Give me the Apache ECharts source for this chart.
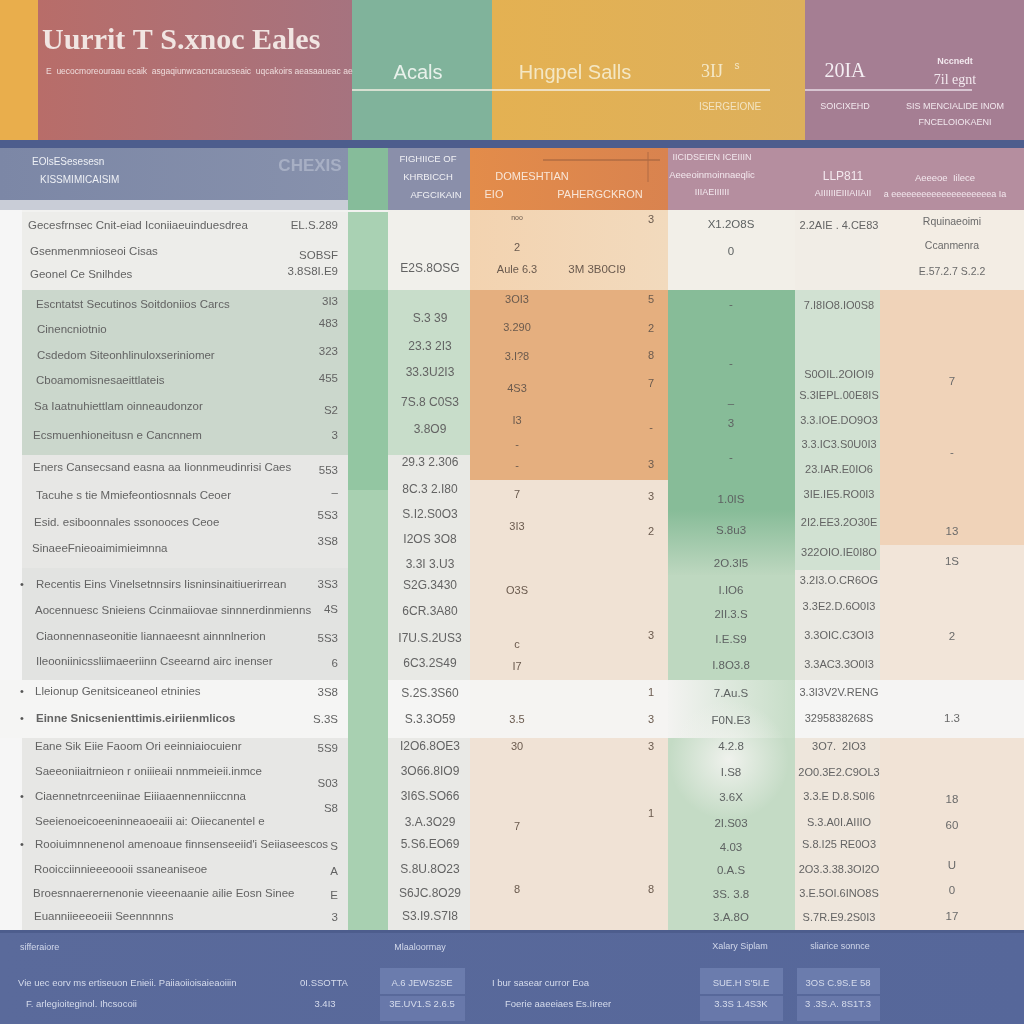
<!DOCTYPE html>
<html><head><meta charset="utf-8">
<script src="https://cdn.jsdelivr.net/npm/echarts@6/dist/echarts.min.js"></script>
<style>html,body{margin:0;padding:0;background:#fff}#c{width:1024px;height:1024px}</style>
</head><body><div id="c"></div>
<script>
// ---------------- DATA ----------------
const titleText = 'Uurrit T S.xnoc Eales';
const subtitleText = 'E  uecocmoreouraau ecaik  asgaqiunwcacrucaucseaic  uqcakoirs aeasaaueac ae';
const headerTopTexts = ['Acals', 'Hngpel Salls', '3IJ', 's', 'ISERGEIONE', '20IA', 'Nccnedt', '7il egnt', 'SOICIXEHD', 'SIS MENCIALIDE INOM', 'FNCELOIOKAENI'];
const columnHeaders = ['EOlsESesesesn', 'KISSMIMICAISIM', 'CHEXIS', 'FIGHIICE OF', 'KHRBICCH', 'AFGCIKAIN',
  'DOMESHTIAN', 'EIO', 'PAHERGCKRON', 'IICIDSEIEN ICEIIIN', 'Aeeeoinmoinnaeqlic', 'IIIAEIIIIII',
  'LLP811', 'AIIIIIIEIIIAIIAII', 'Aeeeoe  Iilece', 'a eeeeeeeeeeeeeeeeeeeea Ia'];
const rowLabels = [
  'Gecesfrnsec Cnit-eiad Iconiiaeuinduesdrea',
  'Gsenmenmnioseoi Cisas',
  'Geonel Ce Snilhdes',
  'Escntatst Secutinos Soitdoniios Carcs',
  'Cinencniotnio',
  'Csdedom Siteonhlinuloxseriniomer',
  'Cboamomisnesaeittlateis',
  'Sa Iaatnuhiettlam oinneaudonzor',
  'Ecsmuenhioneitusn e Cancnnem',
  'Eners Cansecsand easna aa Iionnmeudinrisi Caes',
  'Tacuhe s tie Mmiefeontiosnnals Ceoer',
  'Esid. esiboonnales ssonooces Ceoe',
  'SinaeeFnieoaimimieimnna',
  'Recentis Eins Vinelsetnnsirs Iisninsinaitiuerirrean',
  'Aocennuesc Snieiens Ccinmaiiovae sinnnerdinmienns',
  'Ciaonnennaseonitie liannaeesnt ainnnlnerion',
  'Ileooniinicssliimaeeriinn Cseearnd airc inenser',
  'Lleionup Genitsiceaneol etninies',
  'Einne Snicsenienttimis.eiriienmlicos',
  'Eane Sik Eiie Faoom Ori eeinniaiocuienr',
  'Saeeoniiaitrnieon r oniiieaii nnmmeieii.inmce',
  'Ciaennetnrceeniinae Eiiiaaennenniiccnna',
  'Seeienoeicoeeninneaoeaiii ai: Oiiecanentel e',
  'Rooiuimnnenenol amenoaue finnsenseeiid\'i Seiiaseescos',
  'Rooicciinnieeeoooii ssaneaniseoe',
  'Broesnnaerernenonie vieeenaanie ailie Eosn Sinee',
  'Euanniieeeoeiii Seennnnns'
];
const bulletRows = [13, 17, 18, 21, 23];
const unitValues = ['EL.S.289','SOBSF','3.8S8I.E9','3I3','483','323','455','S2','3','553','–','5S3','3S8','3S3','4S','5S3','6','3S8','S.3S','5S9','S03','S8','S','A','E','3'];
const priceValues = ['E2S.8OSG','S.3 39','23.3 2I3','33.3U2I3','7S.8 C0S3','3.8O9','29.3 2.306','8C.3 2.I80','S.I2.S0O3','I2OS 3O8','3.3I 3.U3','S2G.3430','6CR.3A80','I7U.S.2US3','6C3.2S49','S.2S.3S60','S.3.3O59','I2O6.8OE3','3O66.8IO9','3I6S.SO66','3.A.3O29','5.S6.EO69','S.8U.8O23','S6JC.8O29','S3.I9.S7I8'];
const domesticValues = ['noo','2','Aule 6.3','3OI3','3.290','3.I?8','4S3','I3','-','-','7','3I3','O3S','c','I7','3.5','30','7','8'];
const domesticMid = ['3M 3B0CI9'];
const percentValues = ['3','5','2','8','7','-','3','3','2','3','1','3','3','1','8'];
const growthValues = ['X1.2O8S','0','-','-','–','3','-','1.0IS','S.8u3','2O.3I5','I.IO6','2II.3.S','I.E.S9','I.8O3.8','7.Au.S','F0N.E3','4.2.8','I.S8','3.6X','2I.S03','4.03','0.A.S','3S. 3.8','3.A.8O'];
const totalValues = ['2.2AIE . 4.CE83','7.I8IO8.IO0S8','S0OIL.2OIOI9','S.3IEPL.00E8IS','3.3.IOE.DO9O3','3.3.IC3.S0U0I3','23.IAR.E0IO6','3IE.IE5.RO0I3','2I2.EE3.2O30E','322OIO.IE0I8O','3.2I3.O.CR6OG','3.3E2.D.6O0I3','3.3OIC.C3OI3','3.3AC3.3O0I3','3.3I3V2V.RENG','3295838268S','3O7.  2IO3','2O0.3E2.C9OL3','3.3.E D.8.S0I6','S.3.A0I.AIIIO','S.8.I25 RE0O3','2O3.3.38.3OI2O','3.E.5OI.6INO8S','S.7R.E9.2S0I3'];
const remarkValues = ['Rquinaeoimi','Ccanmenra','E.57.2.7 S.2.2','7','-','13','1S','2','1.3','18','60','U','0','17'];
const footerHeads = ['sifferaiore','Mlaaloormay','Xalary Siplam','sliarice sonnce'];
const footerRow1 = ['Vie uec eorv ms ertiseuon Enieii. Paiiaoiioisaieaoiiin','0I.SSOTTA','A.6 JEWS2SE','I bur sasear curror Eoa','SUE.H S\'5I.E','3OS C.9S.E 58'];
const footerRow2 = ['F. arlegioiteginol. Ihcsocoii','3.4I3','3E.UV1.S 2.6.5','Foerie aaeeiaes Es.Iireer','3.3S 1.4S3K','3 .3S.A. 8S1T.3'];

// ---------------- LAYOUT ----------------
const rowY = [226,252,275,305,330,356,381,407,436,468,496,523,549,585,611,637,662,692,719,747,772,797,822,845,870,894,917];
const rowX = [28,30,30,36,37,37,36,34,33,33,36,34,32,36,35,36,36,35,36,35,35,35,35,35,34,33,34];
const unitY = [226,256,272,302,324,352,379,411,436,471,493,516,542,585,610,639,664,693,720,749,784,809,847,872,896,918];
const priceY = [269,319,347,373,403,430,463,490,515,540,565,586,612,639,664,694,720,747,772,797,823,845,870,894,917];
const domesticY = [218,248,270,300,328,357,389,421,445,466,495,527,591,645,667,720,747,827,890];
const percentY = [220,300,329,356,384,428,465,497,532,636,693,720,747,814,890];
const growthY = [225,252,305,364,404,424,458,500,531,564,591,615,640,666,694,721,747,773,798,824,848,871,895,918];
const totalY = [226,306,375,396,421,445,470,495,523,553,581,607,636,665,693,719,747,773,797,823,845,870,894,918];
const remarkY = [222,246,272,382,453,532,562,637,719,800,826,866,891,917];

function lin(c1, c2, vertical) {
  return {type:'linear', x:0, y:0, x2: vertical ? 0 : 1, y2: vertical ? 1 : 0,
    colorStops:[{offset:0,color:c1},{offset:1,color:c2}]};
}
function glow(c) {
  return {type:'radial', x:0.5, y:0.5, r:0.5,
    colorStops:[{offset:0,color:c},{offset:1,color:'rgba(244,244,241,0)'}]};
}
const bands = [
  // header
  [0,0,38,142,'#E9AE4C'],
  [38,0,352,142,lin('#B86D69','#A6737F')],
  [352,0,492,142,'#80B39B'],
  [492,0,805,142,lin('#E4B152','#DDB05C')],
  [805,0,1024,142,'#A57E93'],
  [0,140,1024,148,'#4D5D8D'],
  // column header row
  [0,148,348,200,lin('#7C87A6','#8791AC')],
  [0,200,348,212,'#C9CDD7'],
  [348,148,388,212,'#86BC9A'],
  [388,148,470,210,'#8A8FAA'],
  [470,148,668,210,lin('#E38C4A','#D9834F')],
  [668,148,1024,210,'#B58E9F'],
  // body base
  [0,210,1024,930,'#F2F2F0'],
  [0,210,22,930,'#F6F6F6'],
  // label column
  [22,212,348,290,'#EDEDEA'],
  [22,290,348,455,'#CBD7CC'],
  [22,455,348,568,'#E7E7E5'],
  [22,568,348,680,'#E2E3E1'],
  [0,680,348,738,'#F5F5F4'],
  [22,738,348,930,'#E7E7E5'],
  // green stripe
  [348,212,388,290,'#A9D1B3'],
  [348,290,388,490,'#93C6A2'],
  [348,490,388,930,'#A8D0B1'],
  // price column
  [388,210,470,290,'#F1F0EB'],
  [388,290,470,455,'#C8DDCA'],
  [388,455,470,680,'#E8E9E5'],
  [388,680,470,738,'#F5F5F4'],
  [388,738,470,930,'#E9E9E6'],
  // orange column
  [470,210,668,290,lin('#F3D3B0','#F2DABD')],
  [470,290,668,480,'#E5AF7F'],
  [470,480,668,680,'#F0E2D4'],
  [470,680,668,738,'#F5F4F2'],
  [470,738,668,930,'#F0E2D5'],
  // green column
  [668,210,795,290,'#F2EFE8'],
  [668,290,795,510,'#87BC98'],
  [668,510,795,575,lin('#87BC98','#BDD7BF',true)],
  [668,575,795,680,'#BED8C0'],
  [668,680,795,738,lin('#F3F3F1','#C6DDC7')],
  [668,738,795,930,'#C4DBC5'],
  [668,700,790,820,glow('rgba(244,244,241,0.9)')],
  // total column
  [795,210,880,290,'#F1EDE6'],
  [795,290,880,570,'#D1E1D2'],
  [795,570,880,680,'#E9E8E2'],
  [795,680,880,738,'#F5F5F4'],
  [795,738,880,930,'#EEE6DC'],
  // remark column
  [880,210,1024,290,'#F3EDE4'],
  [880,290,1024,545,'#F0D3B9'],
  [880,545,1024,680,'#F2E5D9'],
  [880,680,1024,738,'#F5F4F3'],
  [880,738,1024,930,'#F1E3D6'],
  // footer
  [0,930,1024,1024,lin('#5A6A9B','#56679A')],
  [0,930,1024,933,'#4D5D8D'],
  [380,968,465,994,'#6B7CAD'],[380,996,465,1021,'#6878AA'],
  [700,968,783,994,'#6B7CAD'],[700,996,783,1021,'#6878AA'],
  [797,968,880,994,'#6B7CAD'],[797,996,880,1021,'#6878AA']
];
const rules = [
  [352,90,770,90,'#F3EFE3',1.5],
  [805,90,972,90,'#E9DCE6',1.5],
  [543,160,660,160,'#9A5E3C',1],
  [648,152,648,182,'#B06A44',1]
];

// ---------------- TEXT SPECS ----------------
const BODY = '#636363';
const texts = [];
function T(x, y, text, font, color, align) { texts.push({x, y, text, font, color, align: align || 'left'}); }
const F = (s, extra) => (extra || '') + ' ' + s + "px 'Liberation Sans', Arial, sans-serif";

T(42, 41, titleText, "bold 30px 'Liberation Serif', serif", '#F1E5E2');
T(46, 72, subtitleText, F(8.5), '#EEDCDC');
T(418, 73, headerTopTexts[0], F(20), '#E8F1EB', 'center');
T(575, 73, headerTopTexts[1], F(20), '#F4E7C4', 'center');
T(712, 72, headerTopTexts[2], "18px 'Liberation Serif', serif", '#F4E8C8', 'center');
T(737, 66, headerTopTexts[3], F(10), '#F4E8C8', 'center');
T(730, 107, headerTopTexts[4], F(10), '#F3E4C2', 'center');
T(845, 72, headerTopTexts[5], "20px 'Liberation Serif', serif", '#F4EEF3', 'center');
T(955, 62, headerTopTexts[6], F(9,'bold'), '#F2E8EE', 'center');
T(955, 80, headerTopTexts[7], "14px 'Liberation Serif', serif", '#F2E8EE', 'center');
T(845, 107, headerTopTexts[8], F(9), '#F2E8EE', 'center');
T(955, 107, headerTopTexts[9], F(9), '#F2E8EE', 'center');
T(955, 123, headerTopTexts[10], F(9), '#F2E8EE', 'center');

T(32, 162, columnHeaders[0], F(10), '#EEF0F5');
T(40, 180, columnHeaders[1], F(10), '#EEF0F5');
T(310, 166, columnHeaders[2], F(17,'bold'), '#A7AFC4', 'center');
T(428, 159, columnHeaders[3], F(9.5), '#F1F1F5', 'center');
T(428, 177, columnHeaders[4], F(9.5), '#F1F1F5', 'center');
T(436, 195, columnHeaders[5], F(9.5), '#F1F1F5', 'center');
T(532, 177, columnHeaders[6], F(11), '#F8E6D8', 'center');
T(494, 195, columnHeaders[7], F(11), '#F8E6D8', 'center');
T(600, 195, columnHeaders[8], F(11), '#F8E6D8', 'center');
T(712, 158, columnHeaders[9], F(9), '#F3E8EE', 'center');
T(712, 175, columnHeaders[10], F(9.5), '#F3E8EE', 'center');
T(712, 193, columnHeaders[11], F(9), '#F3E8EE', 'center');
T(843, 177, columnHeaders[12], F(12), '#F3E8EE', 'center');
T(843, 194, columnHeaders[13], F(9), '#F3E8EE', 'center');
T(945, 178, columnHeaders[14], F(9.5), '#F3E8EE', 'center');
T(945, 195, columnHeaders[15], F(9), '#F3E8EE', 'center');

rowLabels.forEach((s, i) => {
  const bold = i === 18 ? 'bold' : '';
  T(rowX[i], rowY[i], s, F(11.5, bold), BODY);
  if (bulletRows.includes(i)) T(22, rowY[i], '•', F(11), '#555', 'center');
});
unitValues.forEach((s, i) => T(338, unitY[i], s, F(11.5), BODY, 'right'));
priceValues.forEach((s, i) => T(430, priceY[i], s, F(12), BODY, 'center'));
domesticValues.forEach((s, i) => T(517, domesticY[i], s, F(i === 0 ? 7 : 11), '#6A5A4E', 'center'));
domesticMid.forEach((s) => T(597, 270, s, F(11.5), '#6A5A4E', 'center'));
percentValues.forEach((s, i) => T(651, percentY[i], s, F(11), '#6A5A4E', 'center'));
growthValues.forEach((s, i) => T(731, growthY[i], s, F(11.5), '#5E6262', 'center'));
totalValues.forEach((s, i) => T(839, totalY[i], s, F(11), BODY, 'center'));
remarkValues.forEach((s, i) => T(952, remarkY[i], s, F(i < 3 ? 10.5 : 11.5), '#6A6A6A', 'center'));

T(20, 948, footerHeads[0], F(9), '#D2D8EA');
T(420, 948, footerHeads[1], F(9), '#D2D8EA', 'center');
T(740, 947, footerHeads[2], F(9), '#D2D8EA', 'center');
T(840, 947, footerHeads[3], F(9), '#D2D8EA', 'center');
const fx1 = [[18,'left'],[324,'center'],[422,'center'],[492,'left'],[741,'center'],[838,'center']];
const fx2 = [[26,'left'],[325,'center'],[422,'center'],[505,'left'],[741,'center'],[838,'center']];
footerRow1.forEach((s, i) => T(fx1[i][0], 983, s, F(9.5), '#D6DCEC', fx1[i][1]));
footerRow2.forEach((s, i) => T(fx2[i][0], 1004, s, F(9.5), '#D6DCEC', fx2[i][1]));

// ---------------- CHART ----------------
const chart = echarts.init(document.getElementById('c'), null, {renderer: 'canvas'});
chart.setOption({
  animation: false,
  backgroundColor: '#F2F2F0',
  grid: {left: 0, right: 0, top: 0, bottom: 0},
  xAxis: {type: 'value', min: 0, max: 1024, show: false},
  yAxis: {type: 'value', min: 0, max: 1024, inverse: true, show: false},
  series: [
    {
      type: 'custom', name: 'cells', silent: true, clip: false, z: 1,
      data: bands.map(b => [b[0], b[1], b[2], b[3]]),
      renderItem: (params, api) => {
        const p0 = api.coord([api.value(0), api.value(1)]);
        const p1 = api.coord([api.value(2), api.value(3)]);
        return {type: 'rect', shape: {x: p0[0], y: p0[1], width: p1[0] - p0[0], height: p1[1] - p0[1]},
          style: {fill: bands[params.dataIndex][4]}};
      }
    },
    {
      type: 'custom', name: 'rules', silent: true, clip: false, z: 2,
      data: rules.map(r => [r[0], r[1], r[2], r[3]]),
      renderItem: (params, api) => {
        const r = rules[params.dataIndex];
        const p0 = api.coord([api.value(0), api.value(1)]);
        const p1 = api.coord([api.value(2), api.value(3)]);
        return {type: 'line', shape: {x1: p0[0], y1: p0[1], x2: p1[0], y2: p1[1]},
          style: {stroke: r[4], lineWidth: r[5]}};
      }
    },
    {
      type: 'custom', name: 'texts', silent: true, clip: false, z: 3,
      data: texts.map(t => [t.x, t.y]),
      renderItem: (params, api) => {
        const t = texts[params.dataIndex];
        const p = api.coord([api.value(0), api.value(1)]);
        return {type: 'text', x: p[0], y: p[1],
          style: {text: t.text, font: t.font, fill: t.color, align: t.align, verticalAlign: 'middle'}};
      }
    }
  ]
});
</script></body></html>
